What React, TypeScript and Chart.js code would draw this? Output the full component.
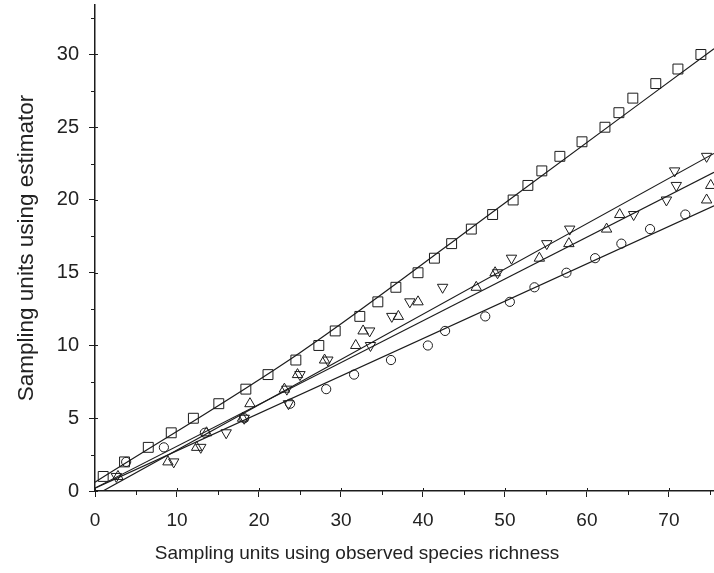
import React, { useEffect, useRef } from "react";
import { Chart, registerables } from "chart.js";

Chart.register(...registerables);

// Axis ticks
const xTicks = [0, 10, 20, 30, 40, 50, 60, 70];
const yTicks = [0, 5, 10, 15, 20, 25, 30];
const xMinorTicks = [5, 15, 25, 35, 45, 55, 65, 75];
const yMinorTicks = [2.5, 7.5, 12.5, 17.5, 22.5, 27.5, 32.5];

// Squares
const squareX = [1.0, 3.6, 6.5, 9.3, 12.0, 15.1, 18.4, 21.1, 24.5, 27.3, 29.3, 32.3, 34.5, 36.7, 39.4, 41.4, 43.5, 45.9, 48.5, 51.0, 52.8, 54.5, 56.7, 59.4, 62.2, 63.9, 65.6, 68.4, 71.1, 73.9];
const squareY = [1, 2, 3, 4, 5, 6, 7, 8, 9, 10, 11, 12, 13, 14, 15, 16, 17, 18, 19, 20, 21, 22, 23, 24, 25, 26, 27, 28, 29, 30];

// Up triangles
const upX = [2.8, 8.9, 12.4, 13.6, 18.0, 18.9, 23.1, 24.7, 28.0, 31.8, 32.7, 37.0, 39.4, 46.5, 48.8, 54.2, 57.8, 62.4, 64.0, 74.6, 75.1];
const upY = [1, 2, 3, 4, 5, 6, 7, 8, 9, 10, 11, 12, 13, 14, 15, 16, 17, 18, 19, 20, 21];

// Down triangles
const downX = [2.6, 9.6, 12.9, 16.0, 18.2, 23.6, 23.4, 25.0, 28.4, 33.6, 33.5, 36.2, 38.4, 42.4, 49.1, 50.8, 55.1, 57.9, 65.7, 69.7, 70.9, 70.7, 74.6];
const downY = [1, 2, 3, 4, 5, 6, 7, 8, 9, 10, 11, 12, 13, 14, 15, 16, 17, 18, 19, 20, 21, 22, 23];

// Circles
const circleX = [3.8, 8.4, 13.4, 18.2, 23.8, 28.2, 31.6, 36.1, 40.6, 42.7, 47.6, 50.6, 53.6, 57.5, 61.0, 64.2, 67.7, 72.0];
const circleY = [2, 3, 4, 5, 6, 7, 8, 9, 10, 11, 12, 13, 14, 15, 16, 17, 18, 19];

// Fitted lines
const squareFitX = [0, 25, 50, 75.5];
const squareFitY = [0.6, 9.5, 19.8, 30.4];
const fitX = [0, 75.5];
const upFitY = [0.2, 21.9];
const downFitY = [-0.3, 23.2];
const circleFitY = [0.2, 19.6];

const INK = "#1c1c1c";
const FONT = "'Liberation Sans', Arial, Helvetica, sans-serif";

const zip = (xs: number[], ys: number[]) => xs.map((x, i) => ({ x, y: ys[i] }));

const minorTickPlugin = {
  id: "minorTicks",
  afterDraw(chart: any) {
    const { ctx } = chart;
    const x = chart.scales.x;
    const y = chart.scales.y;
    ctx.save();
    ctx.strokeStyle = INK;
    ctx.lineWidth = 1;
    ctx.beginPath();
    for (const v of xMinorTicks) {
      const px = Math.round(x.getPixelForValue(v)) + 0.5;
      ctx.moveTo(px, x.top);
      ctx.lineTo(px, x.top + 4);
    }
    for (const v of yMinorTicks) {
      const py = Math.round(y.getPixelForValue(v)) + 0.5;
      ctx.moveTo(y.right - 4, py);
      ctx.lineTo(y.right, py);
    }
    for (const v of yTicks) {
      const py = Math.round(y.getPixelForValue(v)) + 0.5;
      ctx.moveTo(y.right, py);
      ctx.lineTo(y.right + 3, py);
    }
    for (const v of xTicks) {
      const px = Math.round(x.getPixelForValue(v)) + 0.5;
      ctx.moveTo(px, x.top);
      ctx.lineTo(px, x.top - 3);
    }
    ctx.stroke();
    ctx.restore();
  },
};

export default function App() {
  const ref = useRef<HTMLCanvasElement>(null);

  useEffect(() => {
    document.body.style.margin = "0";
    const markerBase = {
      showLine: false,
      borderColor: INK,
      backgroundColor: "rgba(0,0,0,0)",
      borderWidth: 1,
    };
    const lineBase = {
      showLine: true,
      pointRadius: 0,
      borderColor: INK,
      borderWidth: 1.2,
      backgroundColor: INK,
      fill: false,
    };
    const chart = new Chart(ref.current as HTMLCanvasElement, {
      type: "scatter",
      data: {
        datasets: [
          { ...lineBase, label: "square fit", data: zip(squareFitX, squareFitY), cubicInterpolationMode: "monotone" } as any,
          { ...lineBase, label: "up fit", data: zip(fitX, upFitY) } as any,
          { ...lineBase, label: "down fit", data: zip(fitX, downFitY) } as any,
          { ...lineBase, label: "circle fit", data: zip(fitX, circleFitY) } as any,
          { ...markerBase, label: "squares", data: zip(squareX, squareY), pointStyle: "rect", pointRadius: 7 } as any,
          { ...markerBase, label: "up", data: zip(upX, upY), pointStyle: "triangle", pointRadius: 6 } as any,
          { ...markerBase, label: "down", data: zip(downX, downY), pointStyle: "triangle", pointRotation: 180, pointRadius: 6 } as any,
          { ...markerBase, label: "circles", data: zip(circleX, circleY), pointStyle: "circle", pointRadius: 4.6 } as any,
        ],
      },
      options: {
        responsive: false,
        animation: false,
        events: [],
        layout: { autoPadding: false, padding: { top: 5, left: 0, right: 0, bottom: 0 } },
        plugins: {
          legend: { display: false },
          tooltip: { enabled: false },
          title: {
            display: true,
            position: "bottom",
            text: "Sampling units using observed species richness",
            color: "#222",
            font: { family: FONT, size: 19, weight: "normal" },
            padding: { top: 10, bottom: 8 },
          },
        },
        scales: {
          x: {
            type: "linear",
            min: 0,
            max: 75.5,
            afterBuildTicks: (scale: any) => {
              scale.ticks = xTicks.map((v) => ({ value: v }));
            },
            afterFit: (scale: any) => {
              scale.height = 41.2;
              scale.paddingLeft = 0;
              scale.paddingRight = 0;
            },
            border: { display: true, color: INK, width: 1.5 },
            grid: { display: true, drawOnChartArea: false, drawTicks: true, tickLength: 6, color: INK, lineWidth: 1 },
            ticks: { color: "#222", font: { family: FONT, size: 19 }, padding: 12, maxRotation: 0 },
          },
          y: {
            type: "linear",
            min: 0,
            max: 33.4,
            afterBuildTicks: (scale: any) => {
              scale.ticks = yTicks.map((v) => ({ value: v }));
            },
            afterFit: (scale: any) => {
              scale.width = 95;
              scale.paddingTop = 0;
              scale.paddingBottom = 0;
            },
            border: { display: true, color: INK, width: 1.5 },
            grid: { display: true, drawOnChartArea: false, drawTicks: true, tickLength: 6, color: INK, lineWidth: 1 },
            ticks: { color: "#222", font: { family: FONT, size: 20 }, padding: 10 },
            title: {
              display: true,
              text: "Sampling units using estimator",
              color: "#222",
              font: { family: FONT, size: 22.5, weight: "normal" },
              padding: { top: 13, bottom: 0 },
            },
          },
        },
      },
      plugins: [minorTickPlugin],
    });
    return () => chart.destroy();
  }, []);

  return (
    <div style={{ position: "fixed", left: 0, top: 0, width: 714, height: 573, background: "#fff" }}>
      <canvas ref={ref} width={714} height={573} style={{ display: "block" }} />
    </div>
  );
}
